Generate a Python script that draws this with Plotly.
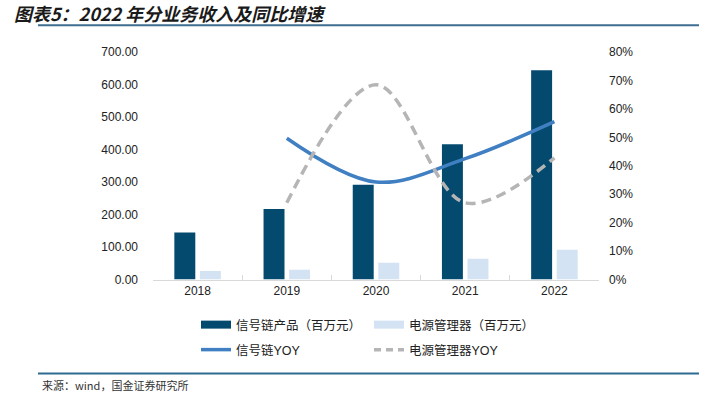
import plotly.graph_objects as go

years = ["2018", "2019", "2020", "2021", "2022"]
signal_rev = [145, 217, 292, 416, 644]
power_rev = [26.5, 30, 52, 64, 92]
yoy_years = ["2019", "2020", "2021", "2022"]
signal_yoy = [0.497, 0.343, 0.425, 0.555]
power_yoy = [0.27, 0.685, 0.27, 0.428]

DARK = "#044a6f"
LIGHT = "#d3e3f3"
BLUE = "#3f7fc2"
GRAY = "#b5b5b5"
CJK = "Liberation Sans, Noto Sans CJK SC, sans-serif"

fig = go.Figure()
fig.add_trace(go.Bar(x=years, y=signal_rev, name="信号链产品（百万元）",
                     marker_color=DARK, marker_line_width=0, showlegend=False))
fig.add_trace(go.Bar(x=years, y=power_rev, name="电源管理器（百万元）",
                     marker_color=LIGHT, marker_line_width=0, showlegend=False))
fig.add_trace(go.Scatter(x=yoy_years, y=signal_yoy, name="信号链YOY", yaxis="y2",
                         mode="lines", line=dict(color=BLUE, width=3.5, shape="spline", smoothing=1.0),
                         showlegend=False))
fig.add_trace(go.Scatter(x=yoy_years, y=power_yoy, name="电源管理器YOY", yaxis="y2",
                         mode="lines", line=dict(color=GRAY, width=3.5, dash="10px,6px", shape="spline", smoothing=1.0),
                         showlegend=False))

# legend proxies (wide swatches)
fig.add_trace(go.Scatter(x=[None], y=[None], mode="lines", name="信号链产品（百万元）",
                         line=dict(color=DARK, width=8), legend="legend"))
fig.add_trace(go.Scatter(x=[None], y=[None], mode="lines", name="电源管理器（百万元）",
                         line=dict(color=LIGHT, width=8), legend="legend"))
fig.add_trace(go.Scatter(x=[None], y=[None], mode="lines", name="信号链YOY",
                         line=dict(color=BLUE, width=3.5), legend="legend2"))
fig.add_trace(go.Scatter(x=[None], y=[None], mode="lines", name="电源管理器YOY",
                         line=dict(color=GRAY, width=3.5, dash="7px,5px"), legend="legend2"))

tickfont = dict(family="Liberation Sans, Arial, sans-serif", size=12, color="#222")
legfont = dict(family=CJK, size=12.5, color="#222")

fig.update_layout(
    width=715, height=398,
    margin=dict(l=153, r=116, t=52, b=116),
    paper_bgcolor="white", plot_bgcolor="white",
    barmode="group", bargap=0.427, bargroupgap=0.18,
    xaxis=dict(type="category", showline=True, linecolor="#d9d9d9", linewidth=1,
               ticks="inside", ticklen=5, tickcolor="#d9d9d9", tickson="boundaries",
               tickfont=tickfont, showgrid=False, zeroline=False),
    yaxis=dict(range=[0, 700], dtick=100, tickformat=".2f", showgrid=False, zeroline=False,
               showline=False, tickfont=tickfont, ticklabelstandoff=14),
    yaxis2=dict(range=[0, 0.8], dtick=0.1, tickformat=".0%", overlaying="y", side="right",
                showgrid=False, zeroline=False, showline=False, tickfont=tickfont,
                ticklabelstandoff=9),
    legend=dict(orientation="h", x=196 / 715, xanchor="left", xref="container",
                y=1 - 325 / 398, yanchor="middle", yref="container",
                font=legfont, entrywidth=128, entrywidthmode="pixels",
                bgcolor="rgba(0,0,0,0)"),
    legend2=dict(orientation="h", x=196 / 715, xanchor="left", xref="container",
                 y=1 - 350 / 398, yanchor="middle", yref="container",
                 font=legfont, entrywidth=128, entrywidthmode="pixels",
                 bgcolor="rgba(0,0,0,0)"),
    font=dict(family=CJK),
    showlegend=True,
)

# Title, separators, source
fig.add_annotation(text="<b><i>图表5：2022 年分业务收入及同比增速</i></b>", xref="paper", yref="paper",
                   x=-141 / 446, y=1 + (52 - 13) / 230, xanchor="left", yanchor="middle",
                   showarrow=False, font=dict(family="Noto Sans CJK SC, sans-serif", size=18, color="#1a1a1a"))
fig.add_shape(type="line", xref="paper", yref="paper",
              x0=(38 - 153) / 446, x1=(699 - 153) / 446, y0=1 + (52 - 25) / 230, y1=1 + (52 - 25) / 230,
              line=dict(color="#3f6e91", width=2))
fig.add_shape(type="line", xref="paper", yref="paper",
              x0=(38 - 153) / 446, x1=(699 - 153) / 446, y0=-(377 - 282) / 230, y1=-(377 - 282) / 230,
              line=dict(color="#2f6a90", width=2))
fig.add_annotation(text="来源：wind，国金证券研究所", xref="paper", yref="paper",
                   x=(40 - 153) / 446, y=-(389 - 282) / 230, xanchor="left", yanchor="middle",
                   showarrow=False, font=dict(family="Noto Sans CJK SC, sans-serif", size=11, color="#333"))

fig.write_html("out.html", config={"displayModeBar": False},
               post_script="document.body.style.margin='0';")
